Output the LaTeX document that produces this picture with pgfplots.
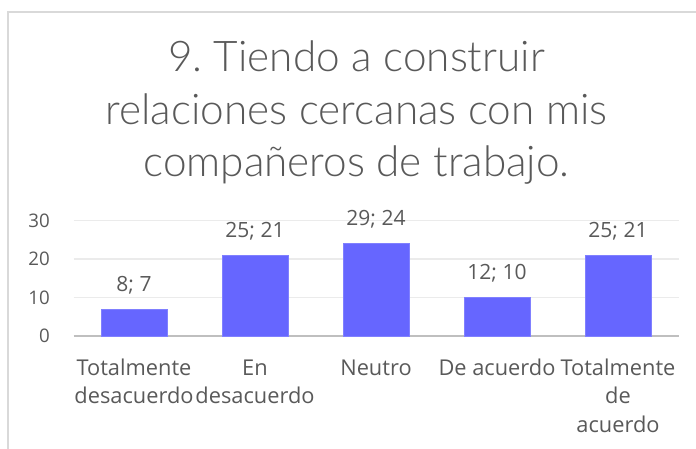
\documentclass[border=0pt]{standalone}
\usepackage{fontspec}
\setmainfont{Open Sans}
\IfFontExistsTF{Lato Light}{\newfontfamily\titlefont{Lato Light}\def\tsize{42.3}}{\newfontfamily\titlefont{Carlito}\def\tsize{44.5}}
\usepackage{pgfplots}
\usepackage{pgfplotstable}
\pgfplotsset{compat=1.18}
\protected\def\sep{;}
\newcommand\fl{\rule{0pt}{20pt}}
\definecolor{barc}{HTML}{6666FF}
\definecolor{bare}{HTML}{8080FF}
\definecolor{txt}{HTML}{595959}
\definecolor{ttl}{HTML}{595959}
\definecolor{frame}{HTML}{D9D9D9}
\definecolor{gridc}{HTML}{EBEBEB}
\definecolor{basec}{HTML}{BFBFBF}
\pgfplotstableread[col sep=comma]{
x,y,label
0,7,8\sep{} 7
1,21,25\sep{} 21
2,24,29\sep{} 24
3,10,12\sep{} 10
4,21,25\sep{} 21
}\datatable
\begin{document}
\frenchspacing
\begin{tikzpicture}[x=1pt,y=1pt]
\path[use as bounding box] (0,0) rectangle (696,449);
\draw[color=frame, line width=1.2pt] (8,-10) -- (8,437) -- (710,437);
\node[anchor=base, align=center, inner sep=0pt, font=\titlefont\fontsize{\tsize}{52.5}\selectfont, text=ttl] at (356.5,272) {9. Tiendo a construir\\relaciones cercanas con mis\\compañeros de trabajo.};
\begin{axis}[
  at={(73.5pt,113pt)}, anchor=south west,
  scale only axis, width=605pt, height=115.3pt,
  xmin=-0.5, xmax=4.5, ymin=0, ymax=30,
  clip=false,
  axis line style={draw=none},
  major tick length=0pt,
  ytick={10,20,30},
  extra y ticks={0},
  extra y tick style={ymajorgrids=true, grid style={color=basec, line width=2.6pt}},
  ymajorgrids=true,
  grid style={color=gridc, line width=1.3pt},
  /pgf/number format/assume math mode=true,
  yticklabel style={anchor=east, inner sep=0pt, xshift=-23.5pt, font=\fontsize{18.7}{22}\selectfont, text=txt},
  xtick={0,1,2,3,4},
  xticklabels={{\fl Totalmente\\desacuerdo},{\fl En\\desacuerdo},{\fl Neutro},{\fl De acuerdo},{\fl Totalmente\\de\\acuerdo}},
  xticklabel style={anchor=north, inner sep=0pt, yshift=-19pt, align=center, font=\fontsize{21.8}{28.5}\selectfont, text=txt},
]
\addplot[ybar, bar width=66pt, fill=barc, draw=bare, line width=0.6pt,
  nodes near coords, point meta=explicit symbolic,
  nodes near coords style={anchor=base, inner sep=0pt, yshift=18pt, font=\fontsize{21}{25}\selectfont, text=txt}]
  table[x=x, y=y, meta=label] {\datatable};
\end{axis}
\end{tikzpicture}
\end{document}
